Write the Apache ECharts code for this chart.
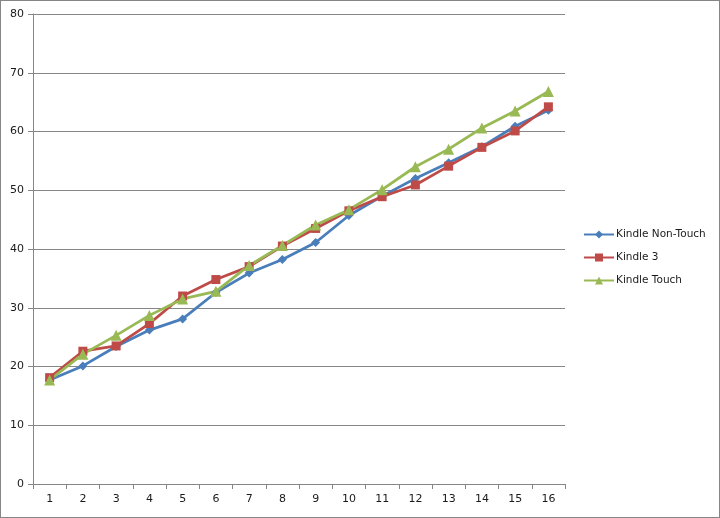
<!DOCTYPE html>
<html><head><meta charset="utf-8">
<script src="https://cdn.jsdelivr.net/npm/echarts@6/dist/echarts.min.js"></script>
<style>html,body{margin:0;padding:0;background:#fff}
#c{position:absolute;left:0;top:0;width:718px;height:516px;border:1px solid #868686}</style>
</head><body><div id="c"></div>
<script>
const categories = ['1','2','3','4','5','6','7','8','9','10','11','12','13','14','15','16'];
const nonTouch = [17.7,20.1,23.4,26.2,28.1,32.6,35.9,38.2,41.1,45.7,49.0,52.0,54.7,57.4,60.9,63.6];
const kindle3 = [18.1,22.6,23.5,27.3,32.0,34.8,37.0,40.5,43.5,46.5,48.9,50.9,54.1,57.3,60.1,64.2];
const touch = [17.7,22.1,25.3,28.7,31.5,32.8,37.2,40.6,44.1,46.7,50.1,54.0,57.0,60.6,63.5,66.8];
const yTicks = [0,10,20,30,40,50,60,70,80];

const chart = echarts.init(document.getElementById('c'));
const font = '"DejaVu Sans", Verdana, sans-serif';
function ser(name, data, color, symbol, size){
  return {name, type:'line', data, symbol, symbolSize:size, showAllSymbol:true,
    lineStyle:{color, width:2.75}, itemStyle:{color}, emphasis:{disabled:true}, z: 2};
}
chart.setOption({
  animation:false,
  textStyle:{fontFamily:font},
  grid:{left:32, right:154, top:13, bottom:33},
  xAxis:{type:'category', data:categories, boundaryGap:true,
    axisLine:{lineStyle:{color:'#868686', width:1}},
    axisTick:{show:true, length:5, lineStyle:{color:'#868686'}},
    axisLabel:{color:'#1a1a1a', fontSize:11, fontFamily:font, margin:10, interval:0}},
  yAxis:{type:'value', min:yTicks[0], max:yTicks[yTicks.length-1], interval:10,
    axisLine:{show:true, lineStyle:{color:'#868686'}},
    axisTick:{show:true, length:5, lineStyle:{color:'#868686'}},
    splitLine:{lineStyle:{color:'#868686', width:1}},
    axisLabel:{color:'#1a1a1a', fontSize:11, fontFamily:font, margin:9}},
  legend:{orient:'vertical', left:577, top:223, itemWidth:30, itemHeight:10, itemGap:12,
    textStyle:{color:'#1a1a1a', fontSize:10.5, fontFamily:font, padding:[0,0,0,-3]},
    data:['Kindle Non-Touch','Kindle 3','Kindle Touch']},
  series:[
    ser('Kindle Non-Touch', nonTouch, '#4A7EBB', 'diamond', 9),
    ser('Kindle 3', kindle3, '#BE4B48', 'rect', 9),
    ser('Kindle Touch', touch, '#98B954', 'triangle', 11)
  ]
});
</script></body></html>
